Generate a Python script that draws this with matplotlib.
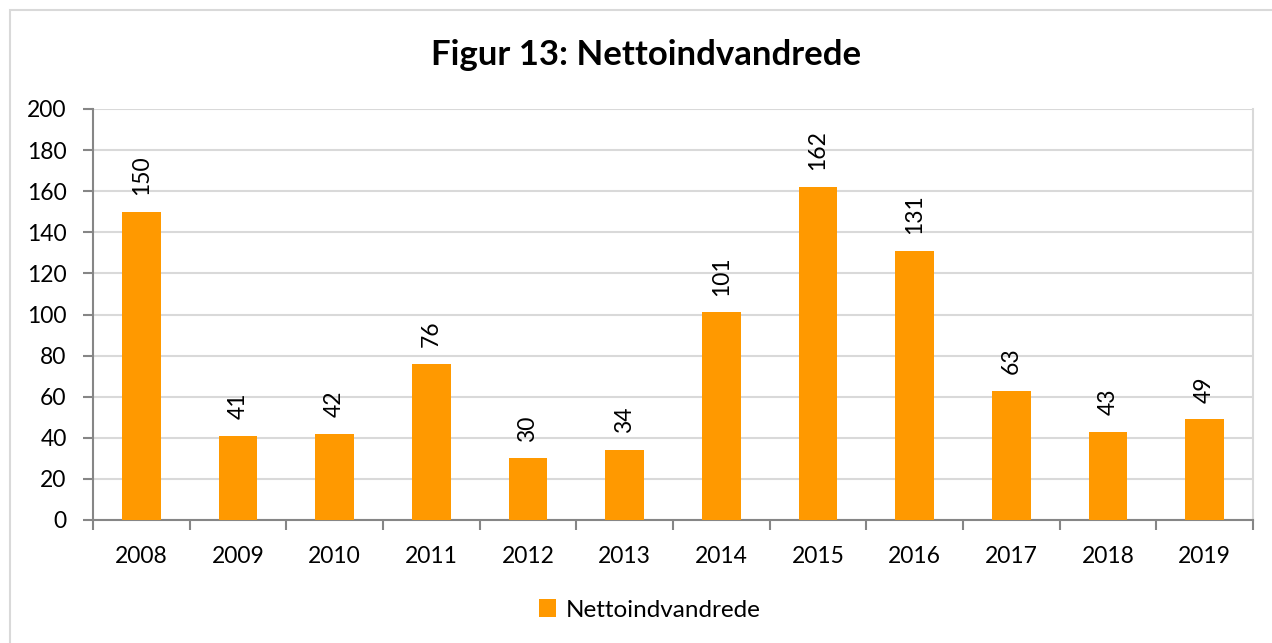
import matplotlib.pyplot as plt
from matplotlib.patches import Rectangle
import numpy as np

years = ["2008", "2009", "2010", "2011", "2012", "2013",
         "2014", "2015", "2016", "2017", "2018", "2019"]
netto = [150, 41, 42, 76, 30, 34, 101, 162, 131, 63, 43, 49]

bar_color = "#FF9900"
axis_gray = "#868686"
grid_gray = "#D9D9D9"

plt.rcParams['font.family'] = ['Lato', 'DejaVu Sans']

fig = plt.figure(figsize=(12.72, 6.43), dpi=100)
ax = fig.add_axes([93 / 1272, 1 - 520 / 643, (1253 - 93) / 1272, (520 - 109) / 643])

# outer chart frame, cut off at right and bottom like the screenshot
fig.patches.append(Rectangle((10 / 1272, -0.1), 1.2, 1.1 - 10 / 643, transform=fig.transFigure,
                             fill=False, edgecolor=grid_gray, linewidth=1.5))

x = np.arange(len(years))
bars = ax.bar(x, netto, width=0.4, color=bar_color, label="Nettoindvandrede", zorder=3)

for xi, v in zip(x, netto):
    ax.annotate(str(v), (xi, v), xytext=(0, 12), textcoords="offset points",
                rotation=90, ha="center", va="bottom", fontsize=16.5, color="black")

ax.set_ylim(0, 200)
ax.set_yticks(range(0, 201, 20))
ax.set_xlim(-0.5, len(years) - 0.5)
ax.set_xticks(x)
ax.set_xticklabels(years)
ax.set_xticks(np.arange(-0.5, len(years)), minor=True)
ax.tick_params(axis="x", which="major", length=0, pad=19, labelsize=16.5)
ax.tick_params(axis="x", which="minor", length=7, width=1.5, color=axis_gray, direction="out")
ax.tick_params(axis="y", length=7, width=1.5, color=axis_gray, labelsize=16.5, pad=12)

ax.yaxis.grid(True, color=grid_gray, linewidth=1.5, zorder=0)
ax.set_axisbelow(True)
for side in ["left", "bottom"]:
    ax.spines[side].set_color(axis_gray)
    ax.spines[side].set_linewidth(1.5)
ax.spines["top"].set_visible(False)
ax.spines["right"].set_color(grid_gray)
ax.spines["right"].set_linewidth(1.5)

fig.text(646 / 1272, 1 - 55 / 643, "Figur 13: Nettoindvandrede", ha="center", va="center",
         fontsize=25, fontweight="bold")

fig.legend(handles=[bars], loc="center", bbox_to_anchor=(650 / 1272, 1 - 610 / 643),
           frameon=False, fontsize=17.5, handlelength=0.7, handleheight=0.7, handletextpad=0.4)

fig.savefig("out.png", dpi=100)
